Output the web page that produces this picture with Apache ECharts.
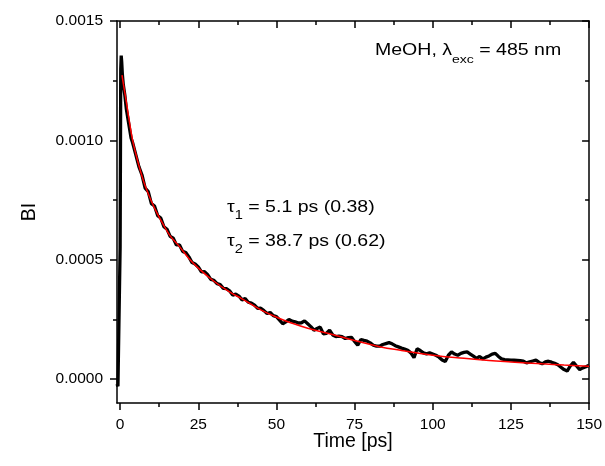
<!DOCTYPE html>
<html><head><meta charset="utf-8">
<script src="https://cdn.jsdelivr.net/npm/echarts@6/dist/echarts.min.js"></script>
<style>html,body{margin:0;padding:0;background:#fff}#c{width:605px;height:466px}</style>
</head><body><div id="c"></div>
<script>
const xMajorTicks = [0, 25, 50, 75, 100, 125, 150];
const xMinorTicks = [12.5, 37.5, 62.5, 87.5, 112.5, 137.5];
const yMajorTicks = [0, 0.0005, 0.0010, 0.0015];
const yMinorTicks = [0.00025, 0.00075, 0.00125];

const dataTime = [-1, -0.7, -0.4, -0.2, 0, 0.2, 0.35, 0.5, 0.7, 1, 1.5, 2, 2.5, 3, 3.5, 4,
  5, 6, 7, 8, 9, 10, 11, 12, 13, 14, 15, 16, 17, 18, 19, 20, 21, 22, 23, 24, 25, 26, 27, 28, 29, 30,
  31, 32, 33, 34, 35, 36, 37, 38, 39, 40, 41, 42, 43, 44, 45, 46, 47, 48, 49, 50,
  51, 52, 53, 54, 55, 56, 57, 58, 59, 60, 61, 62, 63, 64, 65, 66, 67, 68, 69, 70,
  71, 72, 73, 74, 75, 76, 77, 78, 79, 80, 81, 82, 83, 84, 85, 86, 87, 88, 89, 90,
  91, 92, 93, 94, 95, 96, 97, 98, 99, 100, 101, 102, 103, 104, 105, 106, 107, 108, 109, 110,
  111, 112, 113, 114, 115, 116, 117, 118, 119, 120, 121, 122, 123, 124, 125, 126, 127, 128, 129, 130,
  131, 132, 133, 134, 135, 136, 137, 138, 139, 140, 141, 142, 143, 144, 145, 146, 147, 148, 149, 150];
const dataSignal = [-0.00002, -0.00003, -0.000035, -0.00003, 0.00055, 0.00130, 0.001355, 0.00133, 0.00128, 0.001235, 0.00119, 0.00113, 0.00109, 0.00105, 0.00101, 0.00099,
  0.00094, 0.00089, 0.000855, 0.00080, 0.000785, 0.000735, 0.000725, 0.000685, 0.000675, 0.000638, 0.000628, 0.000598, 0.00059, 0.000562, 0.000562, 0.000535, 0.00053, 0.000512, 0.000488, 0.000482, 0.00047, 0.000449, 0.00045, 0.000437, 0.000418, 0.000414,
  0.0004, 0.000396, 0.00038, 0.000379, 0.00037, 0.000352, 0.000356, 0.000348, 0.000332, 0.000337, 0.000322, 0.000318, 0.00031, 0.000296, 0.000297, 0.000287, 0.000275, 0.000279, 0.000266, 0.000262,
  0.000247, 0.000232, 0.00024, 0.00025, 0.000243, 0.00024, 0.000235, 0.000236, 0.000244, 0.000232, 0.00022, 0.000205, 0.000212, 0.000218, 0.00019, 0.000192, 0.000205, 0.000185, 0.000178, 0.00018,
  0.000178, 0.00017, 0.000174, 0.000175, 0.000158, 0.000142, 0.000166, 0.000162, 0.000159, 0.000152, 0.000142, 0.000138, 0.000138, 0.000145, 0.000149, 0.000153, 0.000148, 0.00014, 0.000135, 0.00013,
  0.000126, 0.000121, 0.00011, 0.00009, 0.000127, 0.00012, 0.00011, 0.000106, 0.00011, 0.000105, 0.0001, 0.000092, 0.00008, 0.000074, 0.0001, 0.000114, 0.000105, 0.0001, 0.000108, 0.000112,
  0.000114, 0.000105, 0.000096, 0.000087, 0.000095, 0.000085, 0.000092, 0.000097, 0.000105, 0.000108, 0.000095, 0.000085, 0.000082, 0.000081, 0.00008, 0.000079, 0.000078, 0.000077, 0.000075, 0.000068,
  0.000072, 0.000076, 0.00008, 0.00007, 0.000064, 0.000072, 0.000075, 0.000071, 0.000066, 0.00006, 0.00005, 0.00004, 0.000034, 0.000055, 0.00007, 0.000055, 0.00004, 0.000047, 0.000052, 0.000058];

const fitTime = [0.6, 1, 2, 3, 4, 5, 6, 7, 8, 10, 12, 14, 16, 19, 22, 25, 30, 35, 39, 45, 51, 55, 60, 67, 75, 83, 90, 100, 110, 118, 125, 135, 142, 150];
const fitSignal = [0.001273, 0.00124, 0.00116, 0.001075, 0.00100, 0.000945, 0.000895, 0.00085, 0.00081, 0.000745, 0.00069, 0.000643, 0.0006, 0.000555, 0.000505, 0.000465, 0.00041, 0.000365, 0.000336, 0.00029, 0.000254, 0.000234, 0.000213, 0.00019, 0.000162, 0.000136, 0.00012, 0.0001, 0.000087, 0.000078, 0.000072, 0.000064, 0.000059, 0.000054];

const xAxisTitle = 'Time [ps]';
const yAxisTitle = 'BI';

const FONT = '"Liberation Sans", Arial, sans-serif';
const pair = (a, b) => a.map((v, i) => [v, b[i]]);

function xAx(pos, vals, len, inside, labels, line) {
  return {
    type: 'value', position: pos, min: -1, max: 150,
    axisLine: { show: line, onZero: false, lineStyle: { color: '#000', width: 1.5 } },
    axisTick: { show: true, customValues: vals, inside: inside, length: len, lineStyle: { color: '#000', width: 1.5 } },
    axisLabel: labels ? { show: true, customValues: xMajorTicks, margin: 14, color: '#000', fontSize: 15.5, fontFamily: FONT, formatter: v => String(v) } : { show: false },
    splitLine: { show: false }, minorTick: { show: false },
    name: labels ? xAxisTitle : '', nameLocation: 'middle', nameGap: 29, nameMoveOverlap: false,
    nameTextStyle: { color: '#000', fontSize: 19.5, fontFamily: FONT }
  };
}
function yAx(pos, vals, len, inside, labels, line) {
  return {
    type: 'value', position: pos, min: -0.0001, max: 0.0015,
    axisLine: { show: line, onZero: false, lineStyle: { color: '#000', width: 1.5 } },
    axisTick: { show: true, customValues: vals, inside: inside, length: len, lineStyle: { color: '#000', width: 1.5 } },
    axisLabel: labels ? { show: true, customValues: yMajorTicks, margin: 14, color: '#000', fontSize: 15.5, fontFamily: FONT, formatter: v => v.toFixed(4) } : { show: false },
    splitLine: { show: false }, minorTick: { show: false },
    name: labels ? yAxisTitle : '', nameLocation: 'middle', nameGap: 77, nameRotate: 90, nameMoveOverlap: false,
    nameTextStyle: { color: '#000', fontSize: 19.5, fontFamily: FONT }
  };
}

const richAnno = {
  m: { fontSize: 16, fontFamily: FONT, lineHeight: 30, verticalAlign: 'middle' },
  s: { fontSize: 11.5, fontFamily: FONT, lineHeight: 30, verticalAlign: 'bottom' }
};
const richTau = {
  m: { fontSize: 16, fontFamily: FONT, lineHeight: 28, verticalAlign: 'middle' },
  s: { fontSize: 12, fontFamily: FONT, lineHeight: 28, verticalAlign: 'bottom' }
};

const chart = echarts.init(document.getElementById('c'), null, { renderer: 'canvas' });
chart.setOption({
  animation: false,
  backgroundColor: '#fff',
  grid: { left: 117, right: 14, top: 21, bottom: 63, containLabel: false },
  xAxis: [
    xAx('bottom', xMajorTicks, 7, false, true, true),
    xAx('bottom', xMinorTicks, 4, false, false, false),
    xAx('top', xMajorTicks, 7, true, false, true),
    xAx('top', xMinorTicks, 4, true, false, false)
  ],
  yAxis: [
    yAx('left', yMajorTicks, 7, false, true, true),
    yAx('left', yMinorTicks, 4, false, false, false),
    yAx('right', yMajorTicks, 7, true, false, true),
    yAx('right', yMinorTicks, 4, true, false, false)
  ],
  series: [
    { type: 'line', xAxisIndex: 0, yAxisIndex: 0, data: pair(dataTime, dataSignal), showSymbol: false, symbol: 'none',
      lineStyle: { color: '#000', width: 3.3 }, z: 2 },
    { type: 'line', xAxisIndex: 0, yAxisIndex: 0, data: pair(fitTime, fitSignal), showSymbol: false, symbol: 'none', smooth: 0.4,
      lineStyle: { color: '#ff0000', width: 1.5 }, z: 3 }
  ],
  graphic: [
    { type: 'text', x: 375, y: 36, scaleX: 1.22, style: { text: '{m|MeOH, λ}{s|exc}{m| = 485 nm}', fill: '#000', rich: richAnno } },
    { type: 'text', x: 227, y: 194, scaleX: 1.22, style: { text: '{m|τ}{s|1}{m| = 5.1 ps (0.38)}', fill: '#000', rich: richTau } },
    { type: 'text', x: 227, y: 228, scaleX: 1.22, style: { text: '{m|τ}{s|2}{m| = 38.7 ps (0.62)}', fill: '#000', rich: richTau } }
  ]
});
</script></body></html>
